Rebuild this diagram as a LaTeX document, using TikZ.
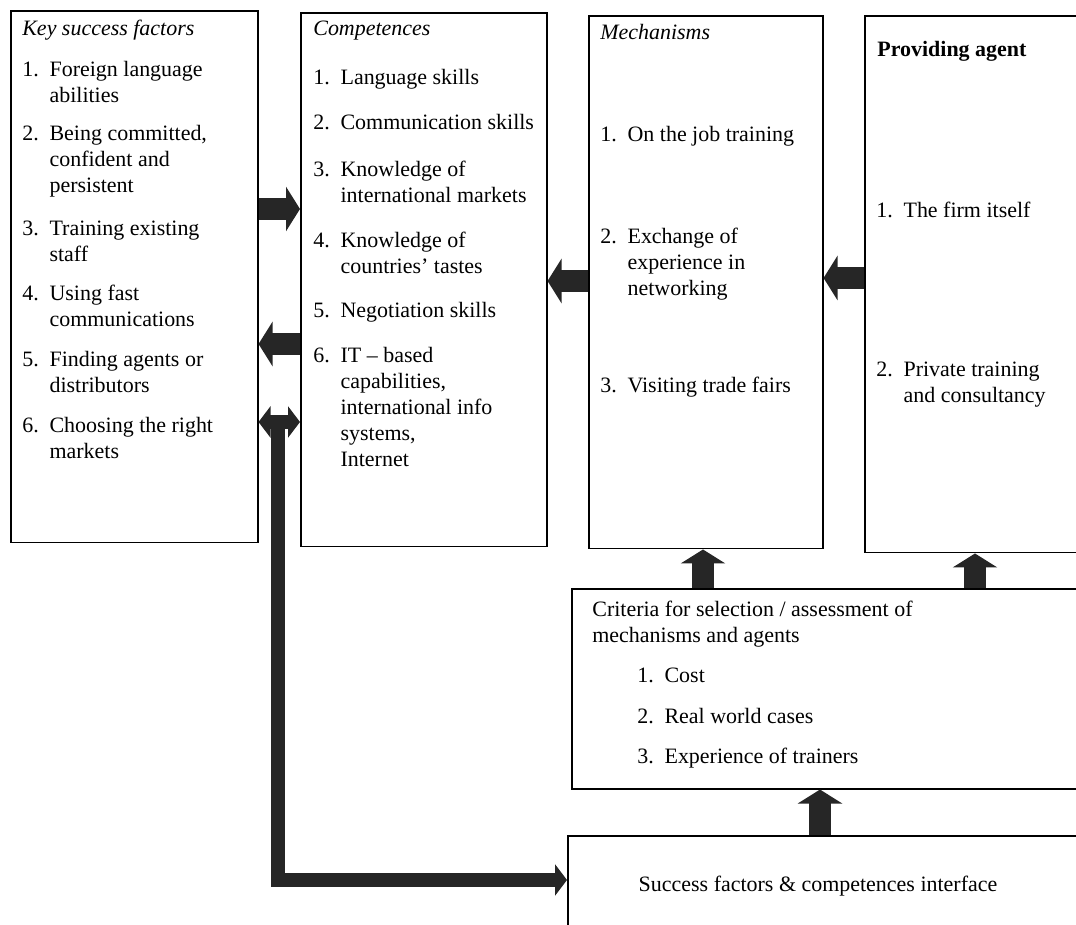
\documentclass[tikz,border=0pt]{standalone}
\usepackage{fontspec}
\setmainfont{Liberation Serif}
\usetikzlibrary{arrows.meta}

\newcommand{\itm}[2]{\makebox[15.5pt][l]{#1}\begin{tabular}[t]{@{}l@{}}#2\end{tabular}}

\begin{document}
\begin{tikzpicture}[x=0.02cm, y=-0.02cm,
    every node/.style={inner sep=0pt, font=\fontsize{12.5}{14.7}\selectfont},
    box/.style={draw, line width=0.9pt, anchor=north west},
    txt/.style={anchor=base west},
    fathead/.tip={Triangle[width=0.88cm, length=0.28cm]},
    slimhead/.tip={Triangle[width=0.62cm, length=0.24cm]},
    fat/.style={draw=black!85, line width=12.5pt, -fathead},
    slim/.style={draw=black!85, line width=8.5pt, line join=miter}]

    \clip (0,0) rectangle (1076,925);

    % Boxes
    \node[box, minimum width=4.94cm, minimum height=10.64cm] (ksf) at (10,10) {};
    \node[box, minimum width=4.92cm, minimum height=10.68cm] (comp) at (300,12) {};
    \node[box, minimum width=4.68cm, minimum height=10.66cm] (mech) at (588,15) {};
    \node[box, minimum width=4.60cm, minimum height=10.74cm] (prov) at (864,15) {};
    \node[box, minimum width=10.50cm, minimum height=4.00cm] (crit) at (571,588) {};
    \node[box, minimum width=10.60cm, minimum height=2.20cm] (intf) at (567,835) {};

    % Key success factors
    \node[txt] (ksft) at (22,36) {\textit{Key success factors}};
    \node[txt] (k1) at (22,77) {\itm{1.}{Foreign language\\abilities}};
    \node[txt] (k2) at (22,141) {\itm{2.}{Being committed,\\confident and\\persistent}};
    \node[txt] (k3) at (22,236) {\itm{3.}{Training existing\\staff}};
    \node[txt] (k4) at (22,301) {\itm{4.}{Using fast\\communications}};
    \node[txt] (k5) at (22,367) {\itm{5.}{Finding agents or\\distributors}};
    \node[txt] (k6) at (22,433) {\itm{6.}{Choosing the right\\markets}};

    % Competences
    \node[txt] (compt) at (313,36) {\textit{Competences}};
    \node[txt] (c1) at (313,85) {\itm{1.}{Language skills}};
    \node[txt] (c2) at (313,130) {\itm{2.}{Communication skills}};
    \node[txt] (c3) at (313,177) {\itm{3.}{Knowledge of\\international markets}};
    \node[txt] (c4) at (313,248) {\itm{4.}{Knowledge of\\countries' tastes}};
    \node[txt] (c5) at (313,318) {\itm{5.}{Negotiation skills}};
    \node[txt] (c6) at (313,363) {\itm{6.}{IT -- based\\capabilities,\\international info\\systems,\\Internet}};

    % Mechanisms
    \node[txt] (mecht) at (600,40) {\textit{Mechanisms}};
    \node[txt] (m1) at (600,142) {\itm{1.}{On the job training}};
    \node[txt] (m2) at (600,244) {\itm{2.}{Exchange of\\experience in\\networking}};
    \node[txt] (m3) at (600,393) {\itm{3.}{Visiting trade fairs}};

    % Providing agent
    \node[txt] (provt) at (877,57) {\textbf{Providing agent}};
    \node[txt] (p1) at (876,218) {\itm{1.}{The firm itself}};
    \node[txt] (p2) at (876,377) {\itm{2.}{Private training\\and consultancy}};

    % Criteria
    \node[txt] (critt) at (592,617) {\begin{tabular}[t]{@{}l@{}}Criteria for selection / assessment of\\mechanisms and agents\end{tabular}};
    \node[txt] (s1) at (637,683) {\itm{1.}{Cost}};
    \node[txt] (s2) at (637,724) {\itm{2.}{Real world cases}};
    \node[txt] (s3) at (637,764) {\itm{3.}{Experience of trainers}};

    % Interface
    \node[anchor=base] (intft) at (818,891) {Success factors \& competences interface};

    % Arrows
    \coordinate (r1) at (0,209);
    \coordinate (r2) at (0,344);
    \coordinate (r3) at (0,422);
    \coordinate (r4) at (0,880);
    \coordinate (r5) at (0,281);
    \coordinate (r6) at (0,278);
    \coordinate (d1) at (278,422);
    \coordinate (u1) at (703,0);
    \coordinate (u2) at (975,0);
    \coordinate (u3) at (820,0);

    \draw[fat] (ksf.east |- r1) -- (comp.west |- r1);
    \draw[fat] (comp.west |- r2) -- (ksf.east |- r2);
    \draw[slim, slimhead-slimhead] (ksf.east |- r3) -- (comp.west |- r3);
    \draw[slim, -slimhead] (d1) |- (intf.west |- r4);
    \draw[fat] (mech.west |- r5) -- (comp.east |- r5);
    \draw[fat] (prov.west |- r6) -- (mech.east |- r6);
    \draw[fat] (crit.north -| u1) -- (mech.south -| u1);
    \draw[fat] (crit.north -| u2) -- (prov.south -| u2);
    \draw[fat] (intf.north -| u3) -- (crit.south -| u3);

\end{tikzpicture}
\end{document}
